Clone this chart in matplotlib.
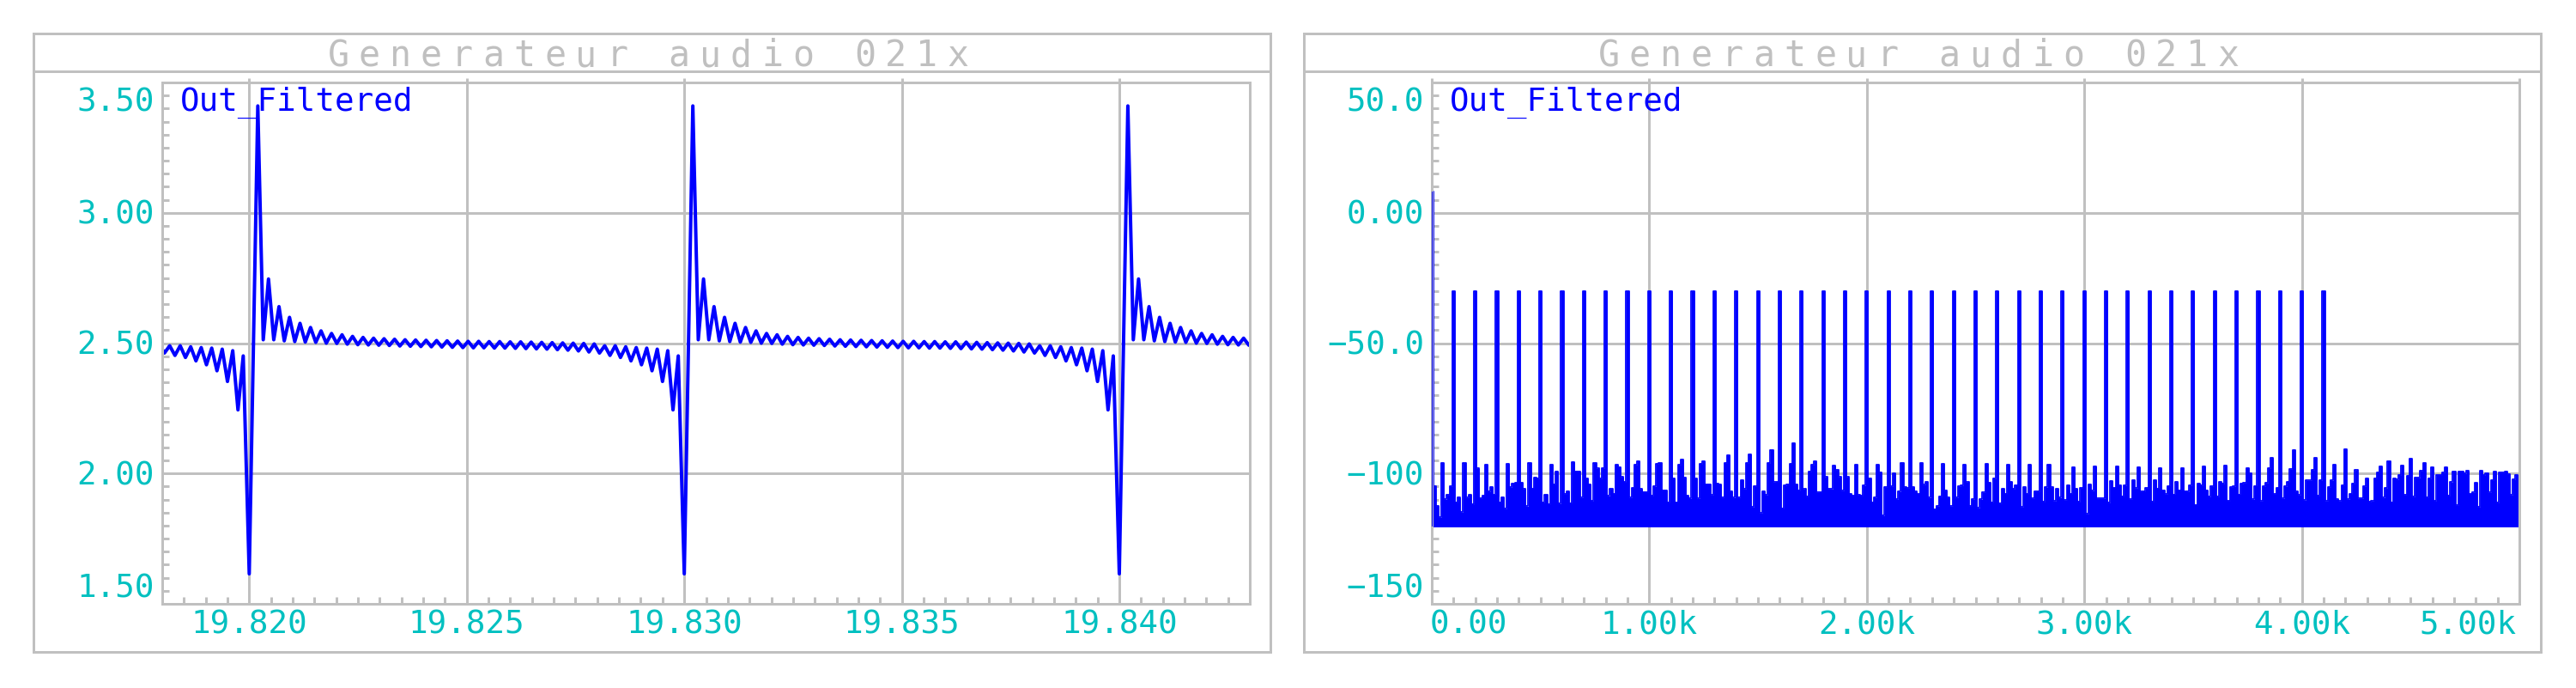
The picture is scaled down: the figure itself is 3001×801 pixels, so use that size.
import numpy as np
import matplotlib.pyplot as plt
from matplotlib.patches import Rectangle
from matplotlib.lines import Line2D
from matplotlib.ticker import MultipleLocator

W, H = 3001, 801
PX = 0.72  # points per pixel at 100 dpi

GRAY = "#c0c0c0"
CYAN = "#00c0c0"
BLUE = "#0000ff"
FONT = "DejaVu Sans Mono"

title = "Generateur audio 021x"
trace_name = "Out_Filtered"

# ---- time panel (V) ----
spike_times = [19.810, 19.820, 19.830, 19.840]   # s, deep trough of each pulse
spike_tau = [0.0, 0.197]                          # ms after the trough
spike_v = [1.615, 3.41]
ring_start, ring_end = 0.322, 9.862               # ms, ringing extrema span
ring_v = [2.513, 2.746, 2.513, 2.640, 2.509, 2.599, 2.506, 2.576, 2.504, 2.560,
          2.503, 2.547, 2.500, 2.537, 2.499, 2.532, 2.496, 2.526, 2.494, 2.522,
          2.493, 2.519, 2.492, 2.517, 2.491, 2.515, 2.489, 2.513, 2.488, 2.512,
          2.487, 2.511, 2.486, 2.510, 2.485, 2.509, 2.484, 2.508, 2.483, 2.507,
          2.482, 2.507, 2.482, 2.506, 2.481, 2.506, 2.481, 2.505, 2.480, 2.505,
          2.479, 2.504, 2.478, 2.503, 2.477, 2.502, 2.475, 2.501, 2.473, 2.500,
          2.470, 2.499, 2.466, 2.497, 2.462, 2.490, 2.453, 2.490, 2.445, 2.486,
          2.432, 2.483, 2.417, 2.481, 2.394, 2.477, 2.353, 2.471, 2.244, 2.451]

time_xticks = [19.820, 19.825, 19.830, 19.835, 19.840]
time_xlabels = ["19.820", "19.825", "19.830", "19.835", "19.840"]
time_yticks = [1.5, 2.0, 2.5, 3.0, 3.5]
time_ylabels = ["1.50", "2.00", "2.50", "3.00", "3.50"]

# ---- spectrum panel (dB) ----
bin_hz = 12.5
dc_db = 8.0
harm_db = [-30.0, -30.0, -30.0, -30.0, -30.0, -30.0, -30.0, -30.0, -30.0, -30.0,
           -30.0, -30.0, -30.0, -30.0, -30.0, -30.0, -30.0, -30.0, -30.0, -30.0,
           -30.0, -30.0, -30.0, -30.0, -30.0, -30.0, -30.0, -30.0, -30.0, -30.0,
           -30.0, -30.0, -30.0, -30.0, -30.0, -30.0, -30.0, -30.0, -30.0, -30.0,
           -30.0]                                  # 100 Hz .. 4100 Hz
tail_slot_db = [-90.7, -102.0, -95.3, -94.3, -97.6, -99.2, -103.5, -111.1]  # 4200..4900 Hz
noise_lo = [
    [-104.9, -112.4, -116.8, -95.9, -109.9, -108.2, -104.9],
    [-111.0, -109.3, -114.8, -95.9, -109.3, -108.2, -111.7],
    [-98.1, -109.5, -108.4, -96.6, -106.9, -105.2, -108.0],
    [-111.0, -109.1, -113.5, -96.3, -105.2, -103.8, -103.4],
    [-103.4, -106.0, -112.6, -95.9, -105.7, -101.6, -101.9],
    [-111.0, -108.0, -111.7, -96.6, -104.1, -99.2, -111.5],
    [-107.8, -106.9, -111.3, -95.6, -99.1, -99.2, -109.3],
    [-101.9, -104.1, -110.4, -95.9, -98.1, -101.9, -97.9],
    [-108.6, -105.8, -107.7, -96.6, -97.6, -101.4, -103.1],
    [-109.3, -105.4, -96.6, -95.3, -106.0, -107.1, -107.1],
    [-108.4, -104.9, -96.2, -95.8, -106.4, -106.4, -111.0],
    [-101.9, -111.0, -96.6, -94.8, -101.6, -108.4, -109.5],
    [-101.9, -109.6, -96.2, -95.3, -104.1, -104.1, -108.2],
    [-103.8, -104.1, -109.3, -95.9, -93.1, -106.9, -109.3],
    [-109.3, -102.5, -106.0, -95.9, -92.7, -112.8, -104.9],
    [-115.2, -106.9, -108.2, -95.9, -90.9, -103.3, -103.1],
    [-113.3, -104.5, -104.2, -96.2, -88.3, -104.1, -106.4],
    [-106.0, -108.8, -99.2, -96.6, -95.4, -107.3, -107.1],
    [-101.4, -105.8, -106.0, -97.0, -98.6, -101.4, -106.6],
    [-101.4, -107.7, -108.4, -96.6, -108.2, -108.4, -104.6],
    [-101.9, -111.0, -109.3, -96.6, -99.7, -116.1, -105.2],
    [-104.9, -99.8, -109.8, -106.9, -95.9, -105.2, -105.5],
    [-105.2, -106.9, -107.7, -95.9, -104.3, -103.2, -109.3],
    [-113.7, -112.6, -108.8, -96.4, -106.6, -109.3, -112.6],
    [-109.3, -104.9, -104.5, -96.6, -103.3, -112.4, -109.9],
]
noise_hi = [
    [-113.2, -109.9, -107.3, -96.2, -103.4, -111.0, -101.9],
    [-111.5, -105.7, -107.7, -96.6, -103.1, -105.8, -104.4],
    [-112.8, -105.2, -107.7, -96.5, -109.6, -106.9, -106.8],
    [-110.7, -105.2, -96.5, -105.2, -110.6, -105.8, -109.3],
    [-110.2, -104.5, -107.7, -97.6, -105.8, -110.7, -105.5],
    [-115.5, -104.2, -106.6, -97.3, -109.6, -109.6, -109.6],
    [-111.1, -102.9, -105.4, -97.3, -104.5, -108.7, -104.5],
    [-109.9, -102.5, -105.6, -97.6, -106.9, -106.7, -105.5],
    [-110.7, -102.5, -105.7, -97.9, -106.4, -107.9, -104.7],
    [-108.0, -103.3, -106.4, -97.9, -106.7, -106.9, -104.5],
    [-112.0, -103.8, -104.5, -97.3, -106.4, -108.8, -104.9],
    [-108.8, -103.2, -103.8, -97.0, -110.4, -105.2, -104.9],
    [-108.0, -103.8, -103.6, -97.9, -99.9, -109.9, -104.7],
    [-110.6, -104.9, -103.6, -97.9, -94.0, -107.8, -105.4],
    [-109.6, -104.9, -103.1, -98.4, -90.9, -106.9, -108.2],
    [-110.2, -102.7, -102.7, -98.6, -94.0, -108.4, -102.5],
    [-110.6, -105.2, -102.7, -96.6, -109.9, -110.6, -104.5],
    [-109.9, -107.7, -103.8, -98.7, -109.6, -109.6, -104.9],
    [-110.7, -110.6, -101.9, -99.5, -97.3, -109.3, -105.5],
    [-111.0, -101.9, -102.3, -100.5, -97.0, -108.2, -100.8],
    [-108.9, -101.6, -101.6, -99.0, -95.9, -109.1, -101.9],
    [-110.4, -100.5, -100.5, -99.7, -97.6, -108.4, -103.3],
    [-112.1, -99.2, -99.2, -100.0, -99.0, -107.7, -107.3],
    [-112.8, -98.9, -100.5, -99.8, -107.3, -102.5, -99.2],
    [-99.7, -99.7, -99.2, -100.3, -108.2, -102.2, -100.5],
]
end_db = -101.0
floor_db = -120.5

freq_xticks = [0, 1000, 2000, 3000, 4000, 5000]
freq_xlabels = ["0.00", "1.00k", "2.00k", "3.00k", "4.00k", "5.00k"]
freq_yticks = [-150, -100, -50, 0, 50]
freq_ylabels = ["\u2212150", "\u2212100", "\u221250.0", "0.00", "50.0"]


fig = plt.figure(figsize=(W / 100, H / 100), dpi=100)
fig.patch.set_facecolor("white")


def frame(x0, x1):
    fig.add_artist(Rectangle((x0 / W, 1 - 759 / H), (x1 - x0) / W, 720 / H,
                             transform=fig.transFigure, fill=False, ec=GRAY, lw=3 * PX))
    fig.add_artist(Line2D([x0 / W, x1 / W], [1 - 83 / H] * 2,
                          transform=fig.transFigure, color=GRAY, lw=3 * PX))
    cx = (x0 + x1) / 2 - 4.5
    n = len(title)
    for i, ch in enumerate(title):
        fig.text((cx + (i - (n - 1) / 2) * 36.1) / W, 1 - 77 / H, ch,
                 ha="center", va="baseline", family=FONT, fontsize=30, color=GRAY)


def setup(ax, xlim, ylim, xmaj, ymaj, xminor, yminor):
    ax.set_xlim(xlim)
    ax.set_ylim(ylim)
    ax.set_xticks(xmaj)
    ax.set_yticks(ymaj)
    ax.xaxis.set_minor_locator(MultipleLocator(xminor))
    ax.yaxis.set_minor_locator(MultipleLocator(yminor))
    ax.grid(True, which="major", color=GRAY, lw=3 * PX)
    ax.set_axisbelow(True)
    for s in ax.spines.values():
        s.set_color(GRAY)
        s.set_linewidth(3 * PX)
    ax.tick_params(which="both", labelbottom=False, labelleft=False,
                   color=GRAY, width=3 * PX)
    ax.tick_params(axis="x", which="major", bottom=False, top=True,
                   direction="out", length=5 * PX)
    ax.tick_params(axis="x", which="minor", bottom=True, top=False,
                   direction="in", length=8 * PX)
    ax.tick_params(axis="y", which="major", left=False, right=False)
    ax.tick_params(axis="y", which="minor", left=True, right=False,
                   direction="in", length=8 * PX)


def tick_text(ax, s, xy, coords, dx, dy, ha):
    ax.annotate(s, xy=xy, xycoords=coords, xytext=(dx * PX, dy * PX),
                textcoords="offset points", ha=ha, va="baseline",
                family=FONT, fontsize=27, color=CYAN, annotation_clip=False)


def labels(ax, xt, xl, yt, yl, edge_x=False):
    for i, (v, s) in enumerate(zip(xt, xl)):
        ha, dx = "center", 0
        if edge_x and i == 0:
            ha, dx = "left", -2
        elif edge_x and i == len(xt) - 1:
            ha, dx = "right", -3
        tick_text(ax, s, (v, 0), ("data", "axes fraction"), dx, -34, ha)
    for i, (v, s) in enumerate(zip(yt, yl)):
        dy = -13
        if i == 0:
            dy = 7
        elif i == len(yt) - 1:
            dy = -33
        tick_text(ax, s, (0, v), ("axes fraction", "data"), -9, dy, "right")
    ax.annotate(trace_name, xy=(0, 1), xycoords="axes fraction",
                xytext=(21 * PX, -33 * PX), textcoords="offset points",
                ha="left", va="baseline", family=FONT, fontsize=27, color=BLUE)


# ---------------- left: time signal ----------------
frame(39, 1480)
ax1 = fig.add_axes([189 / W, 1 - 703 / H, 1267 / W, 607 / H])
setup(ax1, (19.818, 19.843), (1.5, 3.5), time_xticks, time_yticks, 0.0005, 0.05)

tau = np.concatenate([spike_tau, np.linspace(ring_start, ring_end, len(ring_v))])
vp = np.concatenate([spike_v, ring_v])
t = np.concatenate([ts + tau / 1000.0 for ts in spike_times])
v = np.tile(vp, len(spike_times))
ax1.plot(t, v, color=BLUE, lw=4 * PX, zorder=2)
labels(ax1, time_xticks, time_xlabels, time_yticks, time_ylabels)

# ---------------- right: spectrum ----------------
frame(1519, 2960)
ax2 = fig.add_axes([1668 / W, 1 - 703 / H, 1267 / W, 607 / H])
setup(ax2, (0, 5000), (-150, 50), freq_xticks, freq_yticks, 100, 5)

spec = []
for k, block in enumerate(noise_lo + noise_hi):
    if k == 0:
        spec.append(dc_db)
    elif k <= len(harm_db):
        spec.append(harm_db[k - 1])
    else:
        spec.append(tail_slot_db[k - len(harm_db) - 1])
    spec.extend(block)
spec.append(end_db)
spec = np.array(spec)
freqs = np.arange(len(spec)) * bin_hz
ax2.fill_between(freqs, spec, floor_db, step="mid", color=BLUE, lw=0, zorder=2)
ax2.step(freqs, spec, where="mid", color=BLUE, lw=1.8 * PX, zorder=2)
ax2.vlines(freqs[0], floor_db, spec[0], color=BLUE, lw=2 * PX, zorder=3)
labels(ax2, freq_xticks, freq_xlabels, freq_yticks, freq_ylabels, edge_x=True)

fig.savefig("out.png", dpi=100, facecolor="white")
